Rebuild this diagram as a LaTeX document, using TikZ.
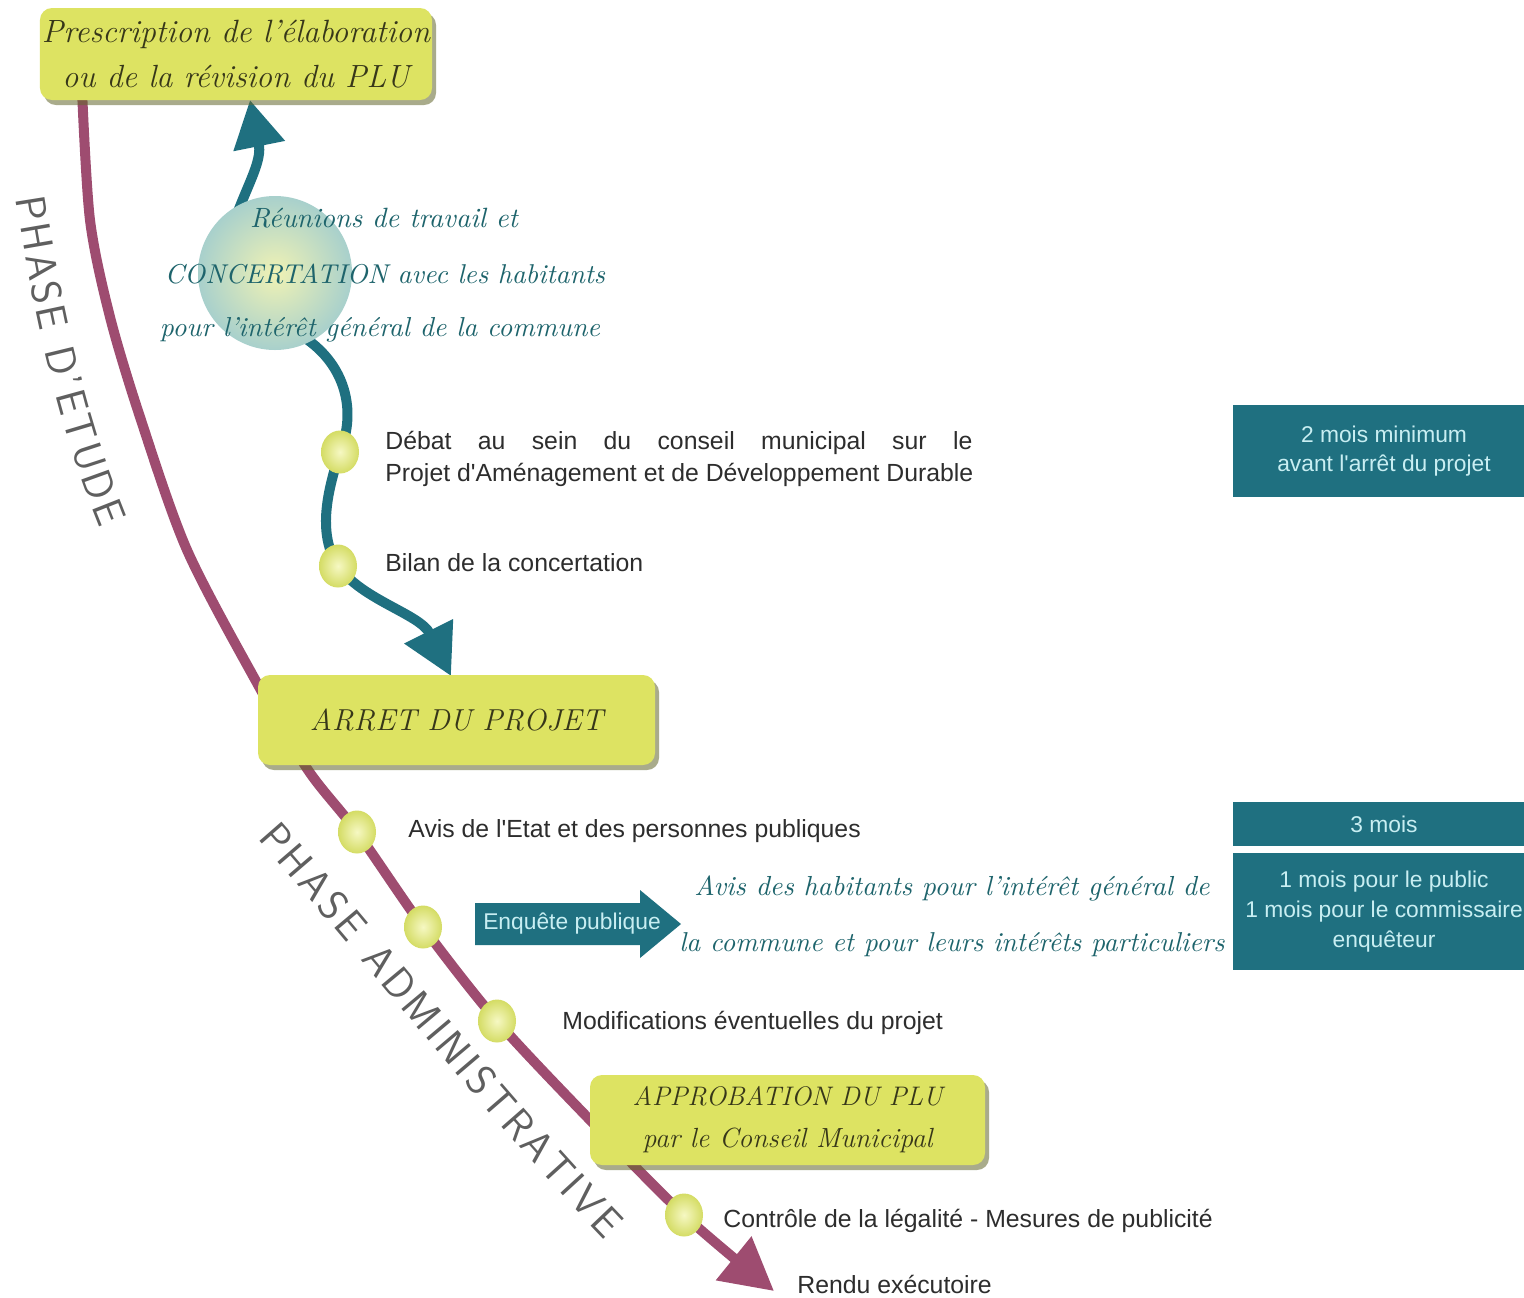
\documentclass[tikz,border=0pt]{standalone}
\usepackage{fontspec}
\usepackage{graphicx}
\newfontfamily\arialf{Liberation Sans}
\usetikzlibrary{arrows.meta,shapes.geometric,shadows,decorations.text}
\definecolor{boxyel}{RGB}{221,227,98}
\definecolor{maroonc}{RGB}{158,76,112}
\definecolor{tealc}{RGB}{31,112,128}
\definecolor{tealtxt}{RGB}{200,238,242}
\definecolor{hwteal}{RGB}{30,100,108}
\definecolor{darktxt}{RGB}{45,45,45}
\definecolor{boxtxt}{RGB}{55,55,25}
\definecolor{dotin}{RGB}{246,248,195}
\definecolor{dotout}{RGB}{212,220,100}
\definecolor{phasegray}{RGB}{95,95,95}
\definecolor{bubin}{RGB}{240,242,180}
\definecolor{bubout}{RGB}{168,208,204}
\newcommand{\fitw}[2]{\resizebox{#1}{!}{#2}}
\newcommand{\hw}{\rmfamily\itshape}
\begin{document}
\begin{tikzpicture}[x=0.5pt,y=-0.5pt,
  yelbox/.style={draw=none, fill=boxyel, rounded corners=6pt, inner sep=1pt, text=boxtxt, align=center,
    drop shadow={shadow xshift=2pt, shadow yshift=-2.5pt, fill=black!55!boxyel, opacity=0.55}},
  tealbox/.style={fill=tealc, text=tealtxt, inner sep=0pt, align=center, font=\arialf\fontsize{11.4}{14.8}\selectfont},
  body/.style={anchor=base west, text=darktxt, font=\arialf\fontsize{12.4}{16}\selectfont, inner sep=0pt},
  hwtext/.style={text=hwteal, inner sep=0pt, font=\hw},
  dotn/.style={ellipse, minimum width=19pt, minimum height=21.5pt, inner sep=0pt, inner color=dotin, outer color=dotout},
  mainline/.style={draw=maroonc, line width=5pt, -{Triangle[length=26pt,width=27pt]}},
  tealline/.style={draw=tealc, line width=5pt},
]
\useasboundingbox (0,0) rectangle (1524,1297);
\fill[white] (0,0) rectangle (1524,1297);

% coordinates of the dots
\coordinate (cA) at (340,452);
\coordinate (cB) at (338,566);
\coordinate (cC) at (357,832);
\coordinate (cD) at (423,927);
\coordinate (cE) at (497,1021);
\coordinate (cF) at (684,1215);

% main maroon curve
\coordinate (m0) at (82,90);
\coordinate (m1) at (90,220);
\coordinate (m2) at (110,317);
\coordinate (m3) at (140,417);
\coordinate (m4) at (187,550);
\coordinate (m5) at (257,683);
\coordinate (m6) at (308,770);
\coordinate (m10) at (590,1120);
\coordinate (mend) at (774,1291);
\draw[mainline] plot[smooth, tension=0.5] coordinates {(m0) (m1) (m2) (m3) (m4) (m5) (m6) (cC) (cD) (cE) (m10) (cF) (mend)};

% teal curves
\coordinate (t0) at (237,214);
\coordinate (t1) at (250,100);
\draw[tealline, -{Triangle[length=23.5pt,width=25pt]}] (t0) .. controls (250,180) and (262,160) .. (t1);
\coordinate (s0) at (305,338);
\coordinate (tarr) at (451,676);
\draw[tealline, -{Triangle[length=25pt,width=26pt]}] (s0) .. controls (345,365) and (357,410) .. (cA)
  .. controls (326,495) and (318,535) .. (cB) .. controls (362,600) and (420,614) .. (tarr);

% bubble
\node[circle, minimum size=77pt, inner sep=0pt, inner color=bubin, outer color=bubout] (bubble) at (275,273) {};

% yellow boxes
\node[yelbox, minimum width=196pt, minimum height=46pt, font=\hw\fontsize{15}{22.5}\selectfont] (presc) at (236,54)
  {\fitw{194pt}{Prescription de l'élaboration}\\\fitw{173.5pt}{ou de la révision du PLU}};
\node[yelbox, minimum width=198.5pt, minimum height=45pt, font=\hw\fontsize{15}{21}\selectfont] (arret) at (456.5,720)
  {\fitw{146.5pt}{ARRET DU PROJET}};
\node[yelbox, minimum width=197.5pt, minimum height=45pt, font=\hw\fontsize{15}{21}\selectfont] (appro) at (787.5,1120)
  {\fitw{155pt}{APPROBATION DU PLU}\\\fitw{145pt}{par le Conseil Municipal}};

% teal boxes
\node[tealbox, minimum width=151pt, minimum height=46pt] (boxA) at (1384,451) {2 mois minimum\\avant l'arrêt du projet};
\node[tealbox, minimum width=151pt, minimum height=22pt] (boxB) at (1384,824) {3 mois};
\node[tealbox, minimum width=151pt, minimum height=58.5pt] (boxC) at (1384,911.5) {1 mois pour le public\\1 mois pour le commissaire\\enquêteur};

% enquete arrow
\fill[tealc] (475,903) -- (640,903) -- (640,890) -- (681,924) -- (640,958) -- (640,945) -- (475,945) -- cycle;
\node[text=tealtxt, inner sep=0pt, font=\arialf\fontsize{11.4}{13}\selectfont] (enq) at (572,924) {Enquête publique};

% dots
\node[dotn] (dA) at (cA) {};
\node[dotn] (dB) at (cB) {};
\node[dotn] (dC) at (cC) {};
\node[dotn] (dD) at (cD) {};
\node[dotn] (dE) at (cE) {};
\node[dotn] (dF) at (cF) {};

% handwritten teal texts
\node[hwtext] (reu1) at (384,218) {\fitw{134pt}{Réunions de travail et}};
\node[hwtext] (reu2) at (385,274) {\fitw{220pt}{CONCERTATION avec les habitants}};
\node[hwtext] (reu3) at (380,330) {\fitw{220pt}{pour l'intérêt général de la commune}};
\node[hwtext] (hab1) at (952,888) {\fitw{257.5pt}{Avis des habitants pour l'intérêt général de}};
\node[hwtext] (hab2) at (952,945) {\fitw{272.5pt}{la commune et pour leurs intérêts particuliers}};

% body texts
\node[body] (debat1) at (385,449) {\makebox[293.5pt][s]{Débat au sein du conseil municipal sur le}};
\node[body] (debat2) at (385,481) {Projet d'Aménagement et de Développement Durable};
\node[body] (bilan) at (385,571) {Bilan de la concertation};
\node[body] (avis) at (408,837) {Avis de l'Etat et des personnes publiques};
\node[body] (modif) at (562,1029) {Modifications éventuelles du projet};
\node[body] (ctrl) at (723,1227) {Contrôle de la légalité - Mesures de publicité};
\node[body] (rendu) at (797,1293) {Rendu exécutoire};

% phase labels
\path[decorate, decoration={text along path, text color=phasegray,
  text format delimiters={|}{|},
  text={|\sffamily\fontsize{21}{21}\selectfont|PHASE D'ETUDE}, text align={fit to path}}]
  (16,198) .. controls (35,320) and (60,430) .. (100,528);
\path[decorate, decoration={text along path, text color=phasegray,
  text format delimiters={|}{|},
  text={|\sffamily\fontsize{21}{21}\selectfont|PHASE ADMINISTRATIVE}, text align={fit to path}}]
  (257,838) .. controls (360,955) and (480,1110) .. (605,1240);
\end{tikzpicture}
\end{document}
